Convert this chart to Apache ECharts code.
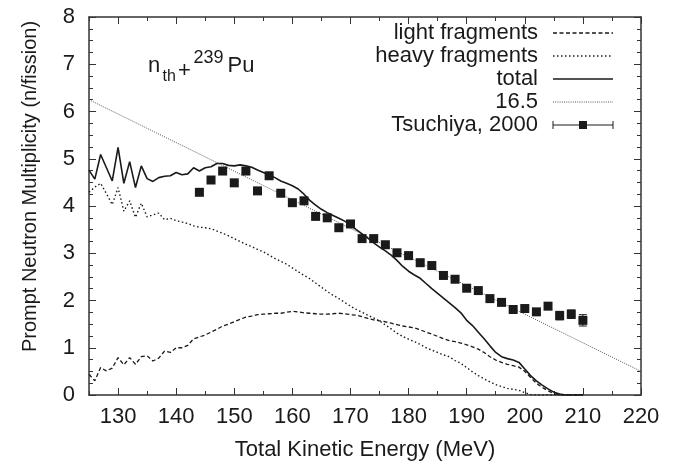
<!DOCTYPE html>
<html>
<head>
<meta charset="utf-8">
<script src="https://cdn.jsdelivr.net/npm/echarts@6/dist/echarts.min.js"></script>
<style>
  html, body { margin: 0; padding: 0; background: #fff; }
  #chart { width: 675px; height: 466px; }
</style>
</head>
<body>
<div id="chart"></div>
<script>
// Total kinetic energy grid (MeV) shared by the calculated curves
const tke = [
  125, 126, 127, 128, 129, 130, 131, 132, 133, 134, 135, 136, 137, 138, 139,
  140, 141, 142, 143, 144, 145, 146, 147, 148, 149, 150, 151, 152, 153, 154,
  155, 156, 157, 158, 159, 160, 161, 162, 163, 164, 165, 166, 167, 168, 169,
  170, 171, 172, 173, 174, 175, 176, 177, 178, 179, 180, 181, 182, 183, 184,
  185, 186, 187, 188, 189, 190, 191, 192, 193, 194, 195, 196, 197, 198, 199,
  200, 201, 202, 203, 204, 205, 206, 207, 208, 209, 210
];

// Prompt neutron multiplicity from the light fragment
const lightFragments = [
  0.44, 0.30, 0.58, 0.51, 0.57, 0.79, 0.64, 0.79, 0.65, 0.81, 0.83, 0.72, 0.78, 0.93, 0.90,
  1.00, 1.00, 1.05, 1.19, 1.23, 1.27, 1.33, 1.39, 1.46, 1.50, 1.55, 1.60, 1.65, 1.67, 1.70,
  1.71, 1.72, 1.73, 1.73, 1.75, 1.77, 1.76, 1.74, 1.73, 1.72, 1.71, 1.71, 1.72, 1.73, 1.72,
  1.70, 1.69, 1.66, 1.62, 1.59, 1.57, 1.55, 1.52, 1.49, 1.46, 1.44, 1.42, 1.38, 1.33, 1.29,
  1.24, 1.19, 1.15, 1.13, 1.10, 1.06, 1.02, 0.97, 0.90, 0.81, 0.74, 0.69, 0.65, 0.62, 0.59,
  0.50, 0.37, 0.25, 0.16, 0.09, 0.03, 0, 0, 0, 0, 0
];

// Prompt neutron multiplicity from the heavy fragment
const heavyFragments = [
  4.29, 4.40, 4.48, 4.26, 4.03, 4.39, 3.89, 4.11, 3.76, 4.06, 3.77, 3.81, 3.85, 3.71, 3.74,
  3.69, 3.66, 3.63, 3.58, 3.55, 3.54, 3.52, 3.47, 3.42, 3.37, 3.31, 3.25, 3.19, 3.14, 3.08,
  3.03, 2.96, 2.89, 2.83, 2.77, 2.69, 2.61, 2.53, 2.46, 2.37, 2.28, 2.19, 2.11, 2.04, 1.96,
  1.88, 1.81, 1.75, 1.69, 1.63, 1.57, 1.48, 1.40, 1.31, 1.24, 1.18, 1.13, 1.07, 1.00, 0.95,
  0.90, 0.85, 0.81, 0.73, 0.67, 0.58, 0.49, 0.41, 0.34, 0.28, 0.22, 0.18, 0.14, 0.12, 0.10,
  0.05, 0.01, 0, 0, 0, 0, 0, 0, 0, 0, 0
];

// Total prompt neutron multiplicity
const totalMultiplicity = [
  4.76, 4.57, 5.09, 4.81, 4.53, 5.24, 4.48, 4.94, 4.39, 4.85, 4.58, 4.52, 4.60, 4.63, 4.64,
  4.71, 4.66, 4.68, 4.81, 4.74, 4.81, 4.83, 4.90, 4.90, 4.86, 4.85, 4.87, 4.85, 4.82, 4.76,
  4.71, 4.66, 4.60, 4.53, 4.48, 4.43, 4.36, 4.25, 4.12, 4.02, 3.93, 3.86, 3.80, 3.74, 3.68,
  3.60, 3.50, 3.41, 3.32, 3.22, 3.13, 3.05, 2.96, 2.85, 2.72, 2.62, 2.54, 2.47, 2.36, 2.25,
  2.15, 2.05, 1.95, 1.85, 1.74, 1.58, 1.47, 1.33, 1.19, 1.04, 0.90, 0.81, 0.77, 0.74, 0.69,
  0.55, 0.41, 0.30, 0.21, 0.13, 0.06, 0.02, 0, 0, 0, 0
];

// Straight line with slope 1/16.5 n per MeV
const slopeLineTke = [125, 220];
const slopeLineNu = [6.25, 0.5];

// Tsuchiya et al. (2000) measurement
const tsuchiyaTke = [
  144, 146, 148, 150, 152, 154, 156, 158, 160, 162, 164, 166, 168, 170, 172, 174, 176,
  178, 180, 182, 184, 186, 188, 190, 192, 194, 196, 198, 200, 202, 204, 206, 208, 210
];
const tsuchiyaNu = [
  4.29, 4.55, 4.74, 4.49, 4.74, 4.32, 4.64, 4.27, 4.07, 4.11, 3.78, 3.75, 3.54, 3.62, 3.31, 3.31, 3.18,
  3.01, 2.95, 2.80, 2.74, 2.53, 2.45, 2.26, 2.21, 2.04, 1.96, 1.81, 1.83, 1.76, 1.88, 1.68, 1.71, 1.58
];
const tsuchiyaErr = [
  0.05, 0.03, 0.03, 0.03, 0.03, 0.03, 0.03, 0.03, 0.03, 0.03, 0.03, 0.03, 0.03, 0.03, 0.03, 0.03, 0.03,
  0.03, 0.03, 0.03, 0.03, 0.03, 0.03, 0.03, 0.03, 0.03, 0.04, 0.04, 0.04, 0.05, 0.06, 0.09, 0.09, 0.12
];

// Axis tick positions
const xMajorTicks = [130, 140, 150, 160, 170, 180, 190, 200, 210, 220];
const xMinorTicks = [125, 135, 145, 155, 165, 175, 185, 195, 205, 215];

const legendLabels = ['light fragments', 'heavy fragments', 'total', '16.5', 'Tsuchiya, 2000'];

const FONT = '"Liberation Sans", Arial, Helvetica, sans-serif';
const INK = '#1a1a1a';
const AXIS = '#333';

const pairs = (xs, ys) => xs.map((x, i) => [x, ys[i]]);

const chart = echarts.init(document.getElementById('chart'), null, { renderer: 'canvas' });

const xBase = {
  type: 'value', min: 125, max: 220, gridIndex: 0,
  splitLine: { show: false }, minorSplitLine: { show: false }
};
const yBase = {
  type: 'value', min: 0, max: 8, interval: 1, gridIndex: 0,
  splitLine: { show: false }, minorSplitLine: { show: false },
  axisLine: { show: true, lineStyle: { color: AXIS, width: 1.5 } },
  axisTick: { show: true, inside: true, length: 7, lineStyle: { color: AXIS, width: 1 } },
  minorTick: { show: true, splitNumber: 4, length: 4, lineStyle: { color: AXIS, width: 1 } }
};

// Legend rows: [label, dash pattern, width, colour]
const legendStyles = [
  { type: [4, 2.5], width: 1.3, color: INK },
  { type: [1.5, 2.5], width: 1.4, color: INK },
  { type: 'solid', width: 1.6, color: INK },
  { type: [1, 1.2], width: 1, color: '#555' }
];
const legendY0 = 33, legendStep = 23, legendTextRight = 538, sampleX1 = 553, sampleX2 = 613;
const legendGraphics = [];
legendLabels.forEach((label, i) => {
  const y = legendY0 + i * legendStep;
  legendGraphics.push({
    type: 'text', x: legendTextRight, y: y,
    style: { text: label, fill: INK, font: '22px ' + FONT, align: 'right', verticalAlign: 'middle' }
  });
  if (i < 4) {
    const s = legendStyles[i];
    legendGraphics.push({
      type: 'line', shape: { x1: sampleX1, y1: y, x2: sampleX2, y2: y },
      style: { stroke: s.color, lineWidth: s.width, lineDash: s.type === 'solid' ? null : s.type }
    });
  } else {
    const xm = (sampleX1 + sampleX2) / 2;
    legendGraphics.push(
      { type: 'line', shape: { x1: sampleX1, y1: y, x2: sampleX2, y2: y }, style: { stroke: INK, lineWidth: 1 } },
      { type: 'line', shape: { x1: sampleX1, y1: y - 4, x2: sampleX1, y2: y + 4 }, style: { stroke: INK, lineWidth: 1 } },
      { type: 'line', shape: { x1: sampleX2, y1: y - 4, x2: sampleX2, y2: y + 4 }, style: { stroke: INK, lineWidth: 1 } },
      { type: 'rect', shape: { x: xm - 4, y: y - 4, width: 8, height: 8 }, style: { fill: INK } }
    );
  }
});

// Reaction label n_th + 239Pu
const reactionLabel = [
  { type: 'text', x: 148, y: 66, style: { text: 'n', fill: INK, font: '22px ' + FONT, verticalAlign: 'middle' } },
  { type: 'text', x: 162.5, y: 76.5, style: { text: 'th', fill: INK, font: '16px ' + FONT, verticalAlign: 'middle' } },
  { type: 'text', x: 178, y: 71, style: { text: '+', fill: INK, font: '22px ' + FONT, verticalAlign: 'middle' } },
  { type: 'text', x: 193.5, y: 58.5, style: { text: '239', fill: INK, font: '18px ' + FONT, verticalAlign: 'middle' } },
  { type: 'text', x: 227.5, y: 66, style: { text: 'Pu', fill: INK, font: '22px ' + FONT, verticalAlign: 'middle' } }
];

const option = {
  backgroundColor: '#fff',
  animation: false,
  textStyle: { fontFamily: FONT },
  grid: { left: 89, right: 34, top: 17, bottom: 69 },
  xAxis: [
    Object.assign({}, xBase, {
      position: 'bottom',
      name: 'Total Kinetic Energy (MeV)', nameLocation: 'middle', nameGap: 44,
      nameTextStyle: { fontSize: 22, color: INK, fontFamily: FONT },
      axisLine: { show: true, lineStyle: { color: AXIS, width: 1.5 } },
      axisTick: { show: true, inside: true, length: 7, customValues: xMajorTicks, lineStyle: { color: AXIS, width: 1 } },
      axisLabel: { show: true, customValues: xMajorTicks, fontSize: 22, color: INK, margin: 11, fontFamily: FONT }
    }),
    Object.assign({}, xBase, {
      position: 'bottom',
      axisLine: { show: false },
      axisTick: { show: true, inside: true, length: 4, customValues: xMinorTicks, lineStyle: { color: AXIS, width: 1 } },
      axisLabel: { show: false }
    }),
    Object.assign({}, xBase, {
      position: 'top',
      axisLine: { show: true, lineStyle: { color: AXIS, width: 1.5 } },
      axisTick: { show: true, inside: true, length: 7, customValues: xMajorTicks, lineStyle: { color: AXIS, width: 1 } },
      axisLabel: { show: false }
    }),
    Object.assign({}, xBase, {
      position: 'top',
      axisLine: { show: false },
      axisTick: { show: true, inside: true, length: 4, customValues: xMinorTicks, lineStyle: { color: AXIS, width: 1 } },
      axisLabel: { show: false }
    })
  ],
  yAxis: [
    Object.assign({}, yBase, {
      position: 'left',
      axisLabel: { show: true, fontSize: 22, color: INK, margin: 14, fontFamily: FONT }
    }),
    Object.assign({}, yBase, {
      position: 'right',
      axisLabel: { show: false }
    })
  ],
  graphic: [
    {
      type: 'text', x: 30, y: 186.5, rotation: Math.PI / 2,
      style: {
        text: 'Prompt Neutron Multiplicity (n/fission)', fill: INK,
        font: '20px ' + FONT, align: 'center', verticalAlign: 'middle'
      }
    }
  ].concat(reactionLabel, legendGraphics),
  series: [
    {
      name: 'light fragments', type: 'line', xAxisIndex: 0, yAxisIndex: 0,
      data: pairs(tke, lightFragments), showSymbol: false, symbol: 'none',
      lineStyle: { color: INK, width: 1.3, type: [4, 2.5] }, z: 3
    },
    {
      name: 'heavy fragments', type: 'line', xAxisIndex: 0, yAxisIndex: 0,
      data: pairs(tke, heavyFragments), showSymbol: false, symbol: 'none',
      lineStyle: { color: INK, width: 1.4, type: [1.5, 2.5] }, z: 3
    },
    {
      name: 'total', type: 'line', xAxisIndex: 0, yAxisIndex: 0,
      data: pairs(tke, totalMultiplicity), showSymbol: false, symbol: 'none',
      lineStyle: { color: INK, width: 1.6 }, z: 4
    },
    {
      name: '16.5', type: 'line', xAxisIndex: 0, yAxisIndex: 0,
      data: pairs(slopeLineTke, slopeLineNu), showSymbol: false, symbol: 'none',
      lineStyle: { color: '#555', width: 1, type: [1, 1.2] }, z: 2
    },
    {
      name: 'Tsuchiya, 2000', type: 'custom', xAxisIndex: 0, yAxisIndex: 0,
      data: tsuchiyaTke.map((x, i) => [x, tsuchiyaNu[i], tsuchiyaErr[i]]),
      encode: { x: 0, y: 1 },
      z: 5,
      renderItem: function (params, api) {
        const x = api.value(0), y = api.value(1), e = api.value(2);
        const c = api.coord([x, y]);
        const hi = api.coord([x, y + e])[1];
        const lo = api.coord([x, y - e])[1];
        const cap = 4;
        const st = { stroke: INK, lineWidth: 1 };
        return {
          type: 'group',
          children: [
            { type: 'line', shape: { x1: c[0], y1: hi, x2: c[0], y2: lo }, style: st },
            { type: 'line', shape: { x1: c[0] - cap, y1: hi, x2: c[0] + cap, y2: hi }, style: st },
            { type: 'line', shape: { x1: c[0] - cap, y1: lo, x2: c[0] + cap, y2: lo }, style: st },
            { type: 'rect', shape: { x: c[0] - 4.5, y: c[1] - 4.5, width: 9, height: 9 }, style: { fill: INK } }
          ]
        };
      }
    }
  ]
};

chart.setOption(option);
</script>
</body>
</html>
